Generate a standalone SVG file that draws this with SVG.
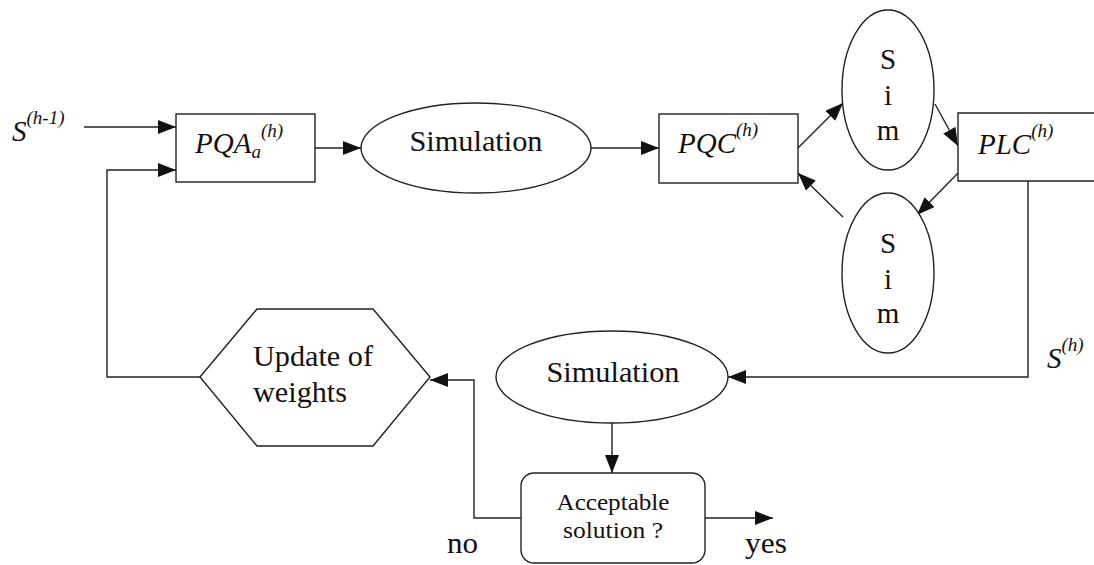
<svg xmlns="http://www.w3.org/2000/svg" width="1094" height="565" viewBox="0 0 1094 565">
  <style>
    .box { fill: #fff; stroke: #222; stroke-width: 1.4; }
    .wire { fill: none; stroke: #222; stroke-width: 1.4; marker-end: url(#arrow); }
    text { font-family: 'Liberation Serif', 'Times New Roman', serif; fill: #111; }
    .big { font-size: 29px; }
    .small { font-size: 23.5px; }
    .it { font-style: italic; }
    .sup { font-size: 19px; }
  </style>
  <defs>
    <marker id="arrow" markerUnits="userSpaceOnUse" markerWidth="20" markerHeight="16" refX="18" refY="7" orient="auto">
      <path d="M0,0 L18,7 L0,14 z" fill="#111"/>
    </marker>
  </defs>
  <rect width="1094" height="565" fill="#fff"/>

  <!-- connectors -->
  <g id="connectors">
    <path class="wire" d="M84,127 H176"/>
    <path class="wire" d="M200,377 H107 V170 H176"/>
    <path class="wire" d="M315,148 H361"/>
    <path class="wire" d="M591,148 H659"/>
    <path class="wire" d="M798,148 L843,103"/>
    <path class="wire" d="M935,104 L958,146"/>
    <path class="wire" d="M958,173 L917,215"/>
    <path class="wire" d="M843,217 L798,173"/>
    <path class="wire" d="M1028,172 V377 H728"/>
    <path class="wire" d="M612,423 V473"/>
    <path class="wire" d="M521,518 H474 V380 H430"/>
    <path class="wire" d="M705,518 H773"/>
  </g>

  <!-- input to the first stage -->
  <g id="input-label">
    <text class="it big" x="12" y="141">S<tspan class="sup" dy="-17">(h-1)</tspan></text>
  </g>

  <g id="pqa">
    <rect class="box" x="176" y="114" width="139" height="68"/>
    <text class="it big" x="195" y="153">PQA<tspan class="sup" dy="5">a</tspan><tspan class="sup" dy="-21">(h)</tspan></text>
  </g>

  <g id="simulation-1">
    <ellipse class="box" cx="476" cy="148" rx="115" ry="45"/>
    <text class="big" x="476" y="151" text-anchor="middle" textLength="133" lengthAdjust="spacingAndGlyphs">Simulation</text>
  </g>

  <g id="pqc">
    <rect class="box" x="659" y="114" width="139" height="69"/>
    <text class="it big" x="678" y="153">PQC<tspan class="sup" dy="-17">(h)</tspan></text>
  </g>

  <g id="sim-upper">
    <ellipse class="box" cx="888" cy="90" rx="46" ry="80"/>
    <text class="big" x="888" y="69" text-anchor="middle">S</text>
    <text class="big" x="888" y="105" text-anchor="middle">i</text>
    <text class="big" x="888" y="140" text-anchor="middle">m</text>
  </g>

  <g id="plc">
    <path class="box" d="M1100,113 H958 V181 H1100"/>
    <text class="it big" x="978" y="154">PLC<tspan class="sup" dy="-17">(h)</tspan></text>
  </g>

  <g id="sim-lower">
    <ellipse class="box" cx="888" cy="273" rx="46" ry="80"/>
    <text class="big" x="888" y="253" text-anchor="middle">S</text>
    <text class="big" x="888" y="289" text-anchor="middle">i</text>
    <text class="big" x="888" y="323" text-anchor="middle">m</text>
  </g>

  <!-- output of the last stage -->
  <g id="output-label">
    <text class="it big" x="1047" y="368">S<tspan class="sup" dy="-17">(h)</tspan></text>
  </g>

  <g id="simulation-2">
    <ellipse class="box" cx="612" cy="377" rx="116" ry="46"/>
    <text class="big" x="613" y="382" text-anchor="middle" textLength="133" lengthAdjust="spacingAndGlyphs">Simulation</text>
  </g>

  <g id="acceptable">
    <rect class="box" x="521" y="473" width="184" height="90" rx="13"/>
    <text class="small" x="613" y="510" text-anchor="middle" textLength="113" lengthAdjust="spacingAndGlyphs">Acceptable</text>
    <text class="small" x="613" y="538" text-anchor="middle" textLength="100" lengthAdjust="spacingAndGlyphs">solution ?</text>
  </g>

  <g id="update-weights">
    <polygon class="box" points="200,377 257,309 373,309 430,377 373,446 257,446"/>
    <text class="big" x="253" y="366" textLength="120" lengthAdjust="spacingAndGlyphs">Update of</text>
    <text class="big" x="253" y="402" textLength="94" lengthAdjust="spacingAndGlyphs">weights</text>
  </g>

  <g id="branch-labels">
    <text class="big" x="447" y="553" textLength="31" lengthAdjust="spacingAndGlyphs">no</text>
    <text class="big" x="745" y="553" textLength="42" lengthAdjust="spacingAndGlyphs">yes</text>
  </g>
</svg>
